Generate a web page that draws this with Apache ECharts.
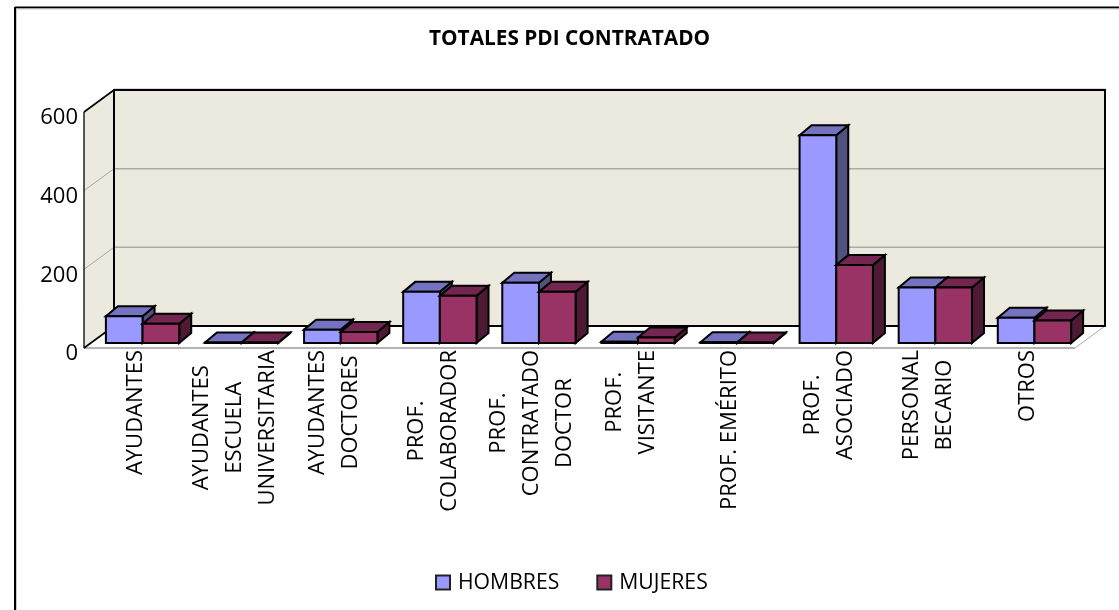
<!DOCTYPE html>
<html><head><meta charset="utf-8">
<style>html,body{margin:0;padding:0;background:#fff}#c{width:1119px;height:610px}</style>
<script src="https://cdn.jsdelivr.net/npm/echarts@6/dist/echarts.min.js"></script>
</head><body><div id="c"></div>
<script>
const categories = ['AYUDANTES','AYUDANTES\nESCUELA\nUNIVERSITARIA','AYUDANTES\nDOCTORES','PROF.\nCOLABORADOR','PROF.\nCONTRATADO\nDOCTOR','PROF.\nVISITANTE','PROF. EMÉRITO','PROF.\nASOCIADO','PERSONAL\nBECARIO','OTROS'];
const hombres = [68,1,34,130,153,3,2,528,141,64];
const mujeres = [49,1,28,120,130,14,1,198,141,57];
const yTicks = [200,400,600];
const FONT = '"Open Sans", sans-serif';
const WALL = [30,-22], SHIFT = [9,-5], DEPTH = [12,-10];
const chart = echarts.init(document.getElementById('c'),null,{renderer:'canvas'});

function poly(points,fill,stroke,lw){return {type:'polygon',shape:{points},style:{fill,stroke:stroke||'#000',lineWidth:lw==null?2:lw,lineJoin:'miter'}};}
function seg(x1,y1,x2,y2,stroke,lw){return {type:'line',shape:{x1,y1,x2,y2},style:{stroke,lineWidth:lw,fill:null}};}

function renderFrame(params,api){
  const g=params.coordSys, l=g.x, r=g.x+g.width, t=g.y, b=g.y+g.height;
  const dx=WALL[0], dy=WALL[1], wall='#ECEADF';
  const ch=[
    poly([[l,b],[r,b],[r+dx,b+dy],[l+dx,b+dy]],'#fff','none',0),
    poly([[l,t],[l+dx,t+dy],[l+dx,b+dy],[l,b]],wall,'none',0),
    poly([[l+dx,t+dy],[r+dx,t+dy],[r+dx,b+dy],[l+dx,b+dy]],wall,'none',0)
  ];
  yTicks.slice(0,-1).forEach(v=>{
    const y=api.coord([0,v])[1];
    ch.push(seg(l,y,l+dx,y+dy,'#a8a8a0',1));
    ch.push(seg(l+dx,y+dy,r+dx,y+dy,'#aaaaa4',1.5));
  });
  ch.push(seg(l+dx-.5,t+dy-1,r+dx+1,t+dy-1,'#b0b0b0',1));
  ch.push(seg(l,b,r,b,'#999',1.5));
  ch.push(seg(r,b,r+dx,b+dy,'#aaa',1));
  ch.push(seg(l,t,l,b,'#000',1.3));
  ch.push(seg(l,t,l+dx,t+dy,'#000',1.6));
  ch.push(seg(l,b,l+dx,b+dy,'#000',1.6));
  ch.push(poly([[l+dx,t+dy],[r+dx,t+dy],[r+dx,b+dy],[l+dx,b+dy]],'none','#000',2));
  return {type:'group',children:ch};
}
function barRenderer(side,front,top,dark){
  return function(params,api){
    const cat=api.value(0), val=api.value(1);
    const band=api.size([1,0])[0], w=band*0.37;
    const p0=api.coord([cat,0]), p1=api.coord([cat,val]);
    const x0=p0[0]+SHIFT[0]+(side<0?-w:0), x1=x0+w;
    const yb=p0[1]+SHIFT[1], yt=p1[1]+SHIFT[1];
    const dx=DEPTH[0], dy=DEPTH[1];
    return {type:'group',children:[
      poly([[x1,yb],[x1+dx,yb+dy],[x1+dx,yt+dy],[x1,yt]],dark),
      poly([[x0,yt],[x0+dx,yt+dy],[x1+dx,yt+dy],[x1,yt]],top),
      poly([[x0,yt],[x1,yt],[x1,yb],[x0,yb]],front)
    ]};
  };
}
const option={
  animation:false,
  backgroundColor:'#fff',
  textStyle:{fontFamily:FONT},
  title:{text:'TOTALES PDI CONTRATADO',left:429,top:29,padding:0,textStyle:{fontFamily:FONT,fontSize:20.8,fontWeight:'bold',color:'#000'}},
  legend:{left:430,top:567,itemWidth:14,itemHeight:14,itemGap:37,selectedMode:false,
    textStyle:{fontFamily:FONT,fontSize:21.2,color:'#000',padding:[0,0,0,3]},
    data:[
      {name:'HOMBRES',icon:'rect',itemStyle:{color:'#9999FF',borderColor:'#222',borderWidth:2}},
      {name:'MUJERES',icon:'rect',itemStyle:{color:'#993366',borderColor:'#222',borderWidth:2}}
    ]},
  grid:{left:84,top:112,width:991,height:236,containLabel:false},
  xAxis:{type:'category',data:categories,axisLine:{show:false},axisTick:{show:false},
    axisLabel:{interval:0,rotate:90,margin:2,color:'#000',hideOverlap:false,
      formatter:v=>v.split('\n').map(s=>'{c|'+s+'}').join('\n'),
      rich:{c:{align:'center',fontFamily:FONT,fontSize:22,lineHeight:33,color:'#000',padding:[4,0,0,0]}}}},
  yAxis:{type:'value',min:0,max:600,interval:200,axisLine:{show:false},axisTick:{show:false},splitLine:{show:false},
    axisLabel:{margin:6,color:'#000',formatter:v=>'{n|'+v+'}',
      rich:{n:{fontFamily:FONT,fontSize:22,color:'#000',padding:[12,0,0,0]}}}},
  graphic:[
    {type:'line',silent:true,shape:{x1:15,y1:7.5,x2:1119,y2:7.5},style:{stroke:'#000',lineWidth:2}},
    {type:'line',silent:true,shape:{x1:15,y1:7,x2:15,y2:610},style:{stroke:'#000',lineWidth:2}},
    {type:'line',silent:true,shape:{x1:16,y1:9,x2:1119,y2:9},style:{stroke:'#ccc',lineWidth:1}},
    {type:'line',silent:true,shape:{x1:16.5,y1:9,x2:16.5,y2:610},style:{stroke:'#ccc',lineWidth:1}}
  ],
  series:[
    {name:'frame',type:'custom',coordinateSystem:'cartesian2d',data:[[0,0]],renderItem:renderFrame,clip:false,silent:true,z:1,encode:{x:0,y:1}},
    {name:'HOMBRES',type:'custom',coordinateSystem:'cartesian2d',itemStyle:{color:'#9999FF'},z:2,clip:false,encode:{x:0,y:1},
      data:hombres.map((v,i)=>[i,v]),renderItem:barRenderer(-1,'#9999FF','#7373BF','#52527F')},
    {name:'MUJERES',type:'custom',coordinateSystem:'cartesian2d',itemStyle:{color:'#993366'},z:3,clip:false,encode:{x:0,y:1},
      data:mujeres.map((v,i)=>[i,v]),renderItem:barRenderer(1,'#993366','#732650','#4D1A33')}
  ]
};
chart.setOption(option);
</script></body></html>
